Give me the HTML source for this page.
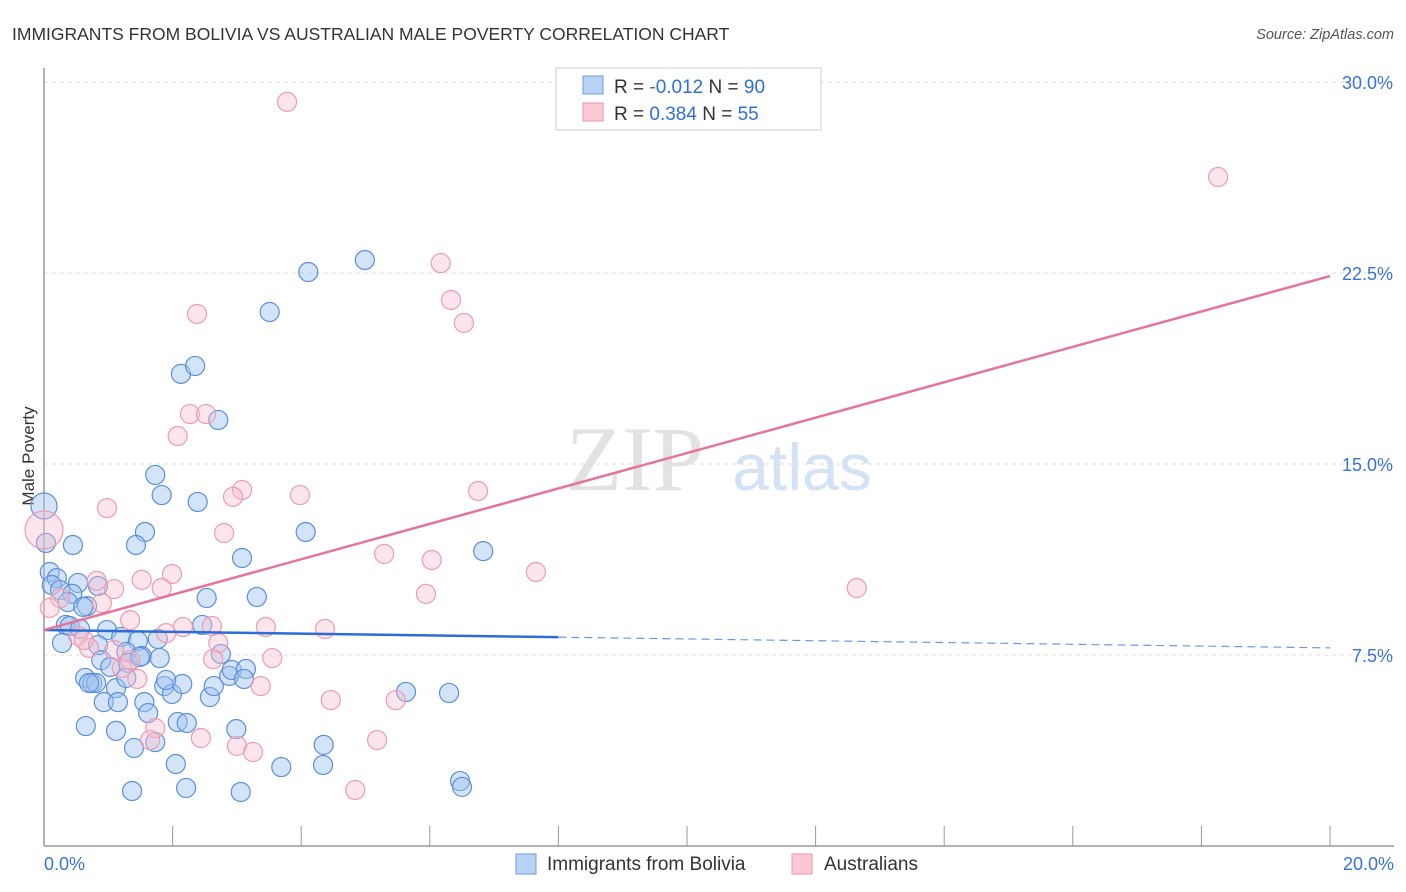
<!DOCTYPE html>
<html><head><meta charset="utf-8"><style>
body{margin:0;background:#fff;font-family:"Liberation Sans",sans-serif}
svg{display:block}
</style></head><body>
<svg id="c" width="1406" height="892" xmlns="http://www.w3.org/2000/svg">
<text x="12" y="40" font-size="17.5" fill="#333">IMMIGRANTS FROM BOLIVIA VS AUSTRALIAN MALE POVERTY CORRELATION CHART</text>
<text x="1394" y="39" font-size="14.5" fill="#555" font-style="italic" text-anchor="end">Source: ZipAtlas.com</text>
<text x="34" y="456" font-size="17" fill="#333" transform="rotate(-90 34 456)" text-anchor="middle">Male Poverty</text>
<g><text x="635" y="490" font-size="92" fill="#e2e2e2" font-family="Liberation Serif,serif" text-anchor="middle">ZIP</text><text x="802" y="490" font-size="66" fill="#d4e2f5" text-anchor="middle">atlas</text></g>
<g id="grid"></g><g id="axes"></g><g id="marks"></g>
<g>
<rect x="556" y="68" width="265" height="62" fill="#fff" stroke="#ccc"/>
<rect x="583" y="76" width="20" height="18" fill="#b9d3f5" stroke="#6a9be0"/>
<rect x="583" y="103" width="20" height="18" fill="#fbc8d6" stroke="#eb93ad"/>
<text x="614" y="93" font-size="19" fill="#333">R = <tspan fill="#2f6fd6">-0.012</tspan>   N = <tspan fill="#2f6fd6">90</tspan></text>
<text x="614" y="120" font-size="19" fill="#333">R =  <tspan fill="#2f6fd6">0.384</tspan>   N = <tspan fill="#2f6fd6">55</tspan></text>
</g>
<g>
<rect x="516" y="854" width="20" height="20" fill="#b9d3f5" stroke="#6a9be0"/>
<text x="547" y="870" font-size="19" fill="#333">Immigrants from Bolivia</text>
<rect x="792" y="854" width="20" height="20" fill="#fbc8d6" stroke="#eb93ad"/>
<text x="824" y="870" font-size="19" fill="#333">Australians</text>
</g>
</svg>
<script>
const yTicks=[7.5,15,22.5,30];
const yTickLabels=["7.5%","15.0%","22.5%","30.0%"];
const xTickLabels=["0.0%","20.0%"];
const blueX=[0,0.03,0.45,0.09,0.20,0.12,0.25,0.53,0.44,0.84,0.37,0.67,0.61,0.34,0.40,0.56,0.98,0.28,0.84,1.20,1.46,1.77,0.89,1.03,1.28,1.31,1.52,1.80,0.64,0.75,0.81,0.70,1.12,0.93,1.15,1.28,1.56,1.87,1.99,2.15,1.90,2.58,2.64,2.88,2.92,3.14,3.11,2.75,1.62,2.08,2.22,0.65,1.12,1.40,1.73,2.05,2.21,1.37,2.99,3.06,3.69,4.35,4.34,5.63,6.30,6.47,6.50,2.46,2.53,3.31,3.08,4.07,6.83,1.57,1.43,1.83,1.73,2.39,2.71,2.13,2.35,3.51,4.11,4.99,1.49];
const blueY=[13.35,11.90,11.82,10.76,10.52,10.25,10.05,10.33,9.90,10.21,9.58,9.42,9.39,8.68,8.64,8.52,8.48,7.97,7.89,8.21,8.05,8.13,7.30,7.03,7.62,7.19,7.46,7.38,6.60,6.40,6.40,6.40,6.20,5.65,5.65,6.60,5.65,6.28,5.97,6.36,6.52,5.85,6.28,6.68,6.91,6.95,6.56,7.54,5.22,4.87,4.83,4.71,4.52,3.85,4.08,3.22,2.28,2.16,4.59,2.12,3.10,3.97,3.18,6.05,6.01,2.55,2.32,8.68,9.74,9.78,11.31,12.33,11.58,12.33,11.82,13.78,14.57,13.51,16.73,18.54,18.85,20.97,22.54,23.01,7.42];
const pinkX=[3.78,18.26,6.17,6.33,6.53,2.38,2.08,2.27,2.52,0.98,3.08,2.94,3.98,6.75,2.80,5.29,6.03,7.65,12.64,1.99,1.52,0.82,1.09,1.83,5.94,0.90,1.34,2.16,1.90,2.61,3.45,4.37,0.53,0.70,2.71,2.63,3.55,1.21,1.45,3.37,4.46,5.47,1.73,1.65,2.44,3.00,3.25,5.18,4.84,0.25,0.09,1.09,0.62,1.34,0];
const pinkY=[29.22,26.27,22.89,21.44,20.54,20.89,16.10,16.96,16.96,13.27,13.98,13.71,13.78,13.94,12.29,11.47,11.23,10.76,10.13,10.68,10.45,10.41,10.09,10.13,9.90,9.54,8.87,8.60,8.36,8.64,8.60,8.52,8.25,7.78,7.97,7.34,7.38,6.99,6.56,6.28,5.73,5.73,4.63,4.16,4.24,3.93,3.69,4.16,2.20,9.74,9.35,7.70,8.09,7.30,12.41];
const pinkR=[10,10,10,10,10,10,10,10,10,10,10,10,10,10,10,10,10,10,10,10,10,10,10,10,10,10,10,10,10,10,10,10,10,10,10,10,10,10,10,10,10,10,10,10,10,10,10,10,10,10,10,10,10,10,20];
const blueTrend=[8.48,7.78];
const pinkTrend=[8.48,22.38];
const X=v=>44+v/20*1286, Y=v=>846-v/30*764;
const NS="http://www.w3.org/2000/svg";
function mk(p,t,a){const e=document.createElementNS(NS,t);for(const k in a)e.setAttribute(k,a[k]);document.getElementById(p).appendChild(e);return e;}
yTicks.forEach((t,i)=>{
 const g=mk('grid','line',{x1:44,x2:1394,y1:Y(t),y2:Y(t),stroke:'#ddd','stroke-dasharray':'4,4'});
 
 
 const l=mk('axes','text',{x:1393,y:Y(t)+7,'font-size':18,fill:'#3a72d8','text-anchor':'end'});
 l.textContent=yTickLabels[i];
 
 
});
mk('axes','line',{x1:44,x2:44,y1:68,y2:846,stroke:'#999','stroke-width':1.5});
mk('axes','line',{x1:44,x2:1394,y1:846,y2:846,stroke:'#999','stroke-width':1.5});
for(let i=0;i<=10;i++){const t=mk('axes','line',{x1:X(i*2),x2:X(i*2),y1:826,y2:846,stroke:'#999'});
 
 }
xTickLabels.forEach((s,i)=>{const l=mk('axes','text',{x:i?1394:44,y:870,'font-size':18,fill:'#3a72d8','text-anchor':i?'end':'start'});l.textContent=s;
 
 });
blueX.forEach((x,i)=>{const c=mk('marks','circle',{cx:X(x),cy:Y(blueY[i]),r:i==0?13:9.5,fill:'rgba(160,196,240,0.45)',stroke:'#5b8fdc','stroke-width':1.2});
 
 });
pinkX.forEach((x,i)=>{const c=mk('marks','circle',{cx:X(x),cy:Y(pinkY[i]),r:pinkR[i]*0.95,fill:'rgba(248,190,206,0.4)',stroke:'#ee9bb3','stroke-width':1.2});
 
 });
const bm=blueTrend[0]+(blueTrend[1]-blueTrend[0])*0.4;
const b1=mk('marks','line',{x1:X(0),y1:Y(blueTrend[0]),x2:X(8),y2:Y(bm),stroke:'#2a6ed6','stroke-width':2.5});


const b2=mk('marks','line',{x1:X(8),y1:Y(bm),x2:X(20),y2:Y(blueTrend[1]),stroke:'#6a9be0','stroke-width':1.2,'stroke-dasharray':'8,5'});


const p1=mk('marks','line',{x1:X(0),y1:Y(pinkTrend[0]),x2:X(20),y2:Y(pinkTrend[1]),stroke:'#e8739a','stroke-width':2.5});


</script>
</body></html>
